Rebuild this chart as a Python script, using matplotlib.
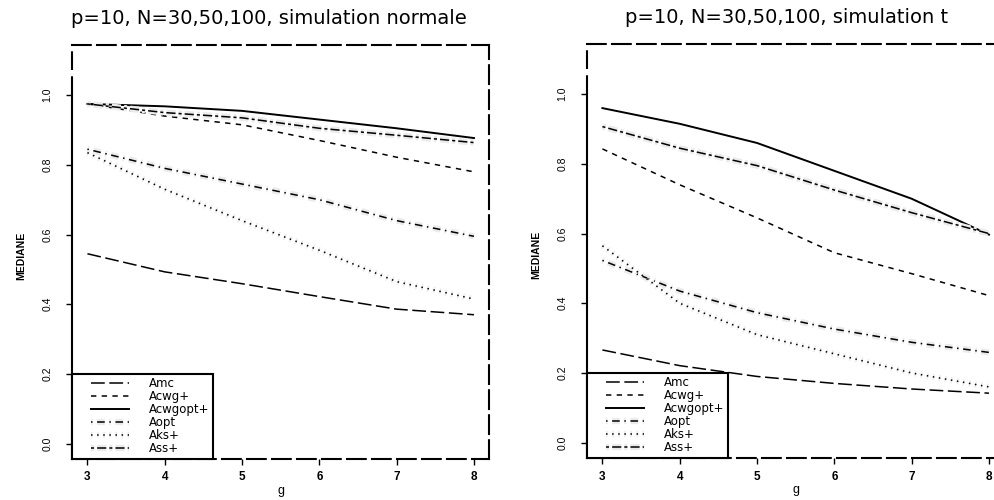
import matplotlib
matplotlib.use("Agg")
import matplotlib.pyplot as plt
import matplotlib.patheffects as pe
from matplotlib.legend_handler import HandlerLine2D
from matplotlib.lines import Line2D

plt.rcParams['font.family'] = ['Liberation Sans', 'DejaVu Sans']

# --- données ---
g = [3, 4, 5, 6, 7, 8]
series = ["Amc", "Acwg+", "Acwgopt+", "Aopt", "Aks+", "Ass+"]

normale = {
    "Amc":      [0.545, 0.493, 0.459, 0.422, 0.386, 0.370],
    "Acwg+":    [0.975, 0.940, 0.915, 0.870, 0.822, 0.780],
    "Acwgopt+": [0.975, 0.968, 0.955, 0.930, 0.905, 0.877],
    "Aopt":     [0.845, 0.790, 0.745, 0.700, 0.640, 0.595],
    "Aks+":     [0.835, 0.730, 0.640, 0.555, 0.465, 0.415],
    "Ass+":     [0.975, 0.950, 0.935, 0.905, 0.885, 0.864],
}
student = {
    "Amc":      [0.266, 0.221, 0.190, 0.170, 0.154, 0.142],
    "Acwg+":    [0.843, 0.740, 0.645, 0.545, 0.485, 0.422],
    "Acwgopt+": [0.960, 0.915, 0.860, 0.780, 0.700, 0.597],
    "Aopt":     [0.523, 0.435, 0.373, 0.326, 0.288, 0.259],
    "Aks+":     [0.565, 0.400, 0.310, 0.255, 0.200, 0.160],
    "Ass+":     [0.907, 0.845, 0.795, 0.725, 0.660, 0.600],
}
titles = ["p=10, N=30,50,100, simulation normale",
          "p=10, N=30,50,100, simulation t"]

# styles façon lty de R
styles = {
    "Amc":      dict(ls=(0, (9, 3)), lw=1.1, halo=False),
    "Acwg+":    dict(ls=(0, (3.5, 3.5)), lw=1.1, halo=False),
    "Acwgopt+": dict(ls='-', lw=1.4, halo=False),
    "Aopt":     dict(ls=(0, (1, 3, 5, 3)), lw=1.1, halo=True),
    "Aks+":     dict(ls=(0, (1, 3)), lw=1.1, halo=True),
    "Ass+":     dict(ls=(0, (2, 2, 6, 2)), lw=1.1, halo=True),
}

fig = plt.figure(figsize=(9.94, 5), dpi=100)
positions = [[0.0724, 0.082, 0.42, 0.828], [0.5905, 0.084, 0.42, 0.828]]
title_x = [0.472, 0.479]

for k, data in enumerate([normale, student]):
    ax = fig.add_axes(positions[k])
    for name in series:
        st = styles[name]
        effects = None
        if st["halo"]:
            effects = [pe.Stroke(linewidth=4.5, foreground='#ebebeb'), pe.Normal()]
        ax.plot(g, data[name], color='black', linestyle=st["ls"], linewidth=st["lw"],
                label=name, path_effects=effects)

    ax.set_xlim(2.8, 8.2)
    ax.set_ylim(-0.044, 1.144)
    ax.set_xticks(g)
    ax.set_yticks([0.0, 0.2, 0.4, 0.6, 0.8, 1.0])
    ax.set_yticklabels(["0.0", "0.2", "0.4", "0.6", "0.8", "1.0"], rotation=90, va='center')
    ax.tick_params(axis='y', length=4, width=1, pad=10, labelsize=7.5)
    ax.tick_params(axis='x', length=4, width=1, pad=5, labelsize=8.5)
    for lab in ax.get_xticklabels():
        lab.set_fontweight('bold')

    # cadre en tirets, axe y plein de 0 à 1
    for side in ['top', 'right', 'bottom', 'left']:
        ax.spines[side].set_linestyle((0, (9, 3)))
        ax.spines[side].set_linewidth(1.5)
    ax.spines['left'].set_bounds(0, 1.0)
    ax.spines['left'].set_linestyle('-')
    ax.plot([2.8, 2.8], [1.0, 1.144], color='black', lw=1.5, ls=(0, (9, 3)),
            clip_on=False)
    ax.plot([2.8, 2.8], [-0.044, 0.0], color='black', lw=1.5, clip_on=False)

    ax.set_title(titles[k], x=title_x[k], pad=15, fontsize=14,
                 family=['DejaVu Sans'])
    ax.set_ylabel("MEDIANE", fontsize=7.5, fontweight='bold')
    ax.yaxis.set_label_coords(-0.11, 0.49)
    ax.set_xlabel("g", fontsize=9, va='top')
    ax.xaxis.set_label_coords(0.5, -0.062)

    leg = ax.legend(loc='lower left', bbox_to_anchor=(0, 0), borderaxespad=0,
                    fancybox=False, framealpha=1, edgecolor='black',
                    prop={'family': 'DejaVu Sans', 'size': 8.5},
                    handlelength=4.5, handletextpad=1.7, labelspacing=0.0,
                    borderpad=0.3,
                    handler_map={Line2D: HandlerLine2D(xpad=1.35)})
    leg.get_frame().set_linewidth(1.5)
    leg.set_zorder(5)

plt.savefig("out.png", dpi=100)
